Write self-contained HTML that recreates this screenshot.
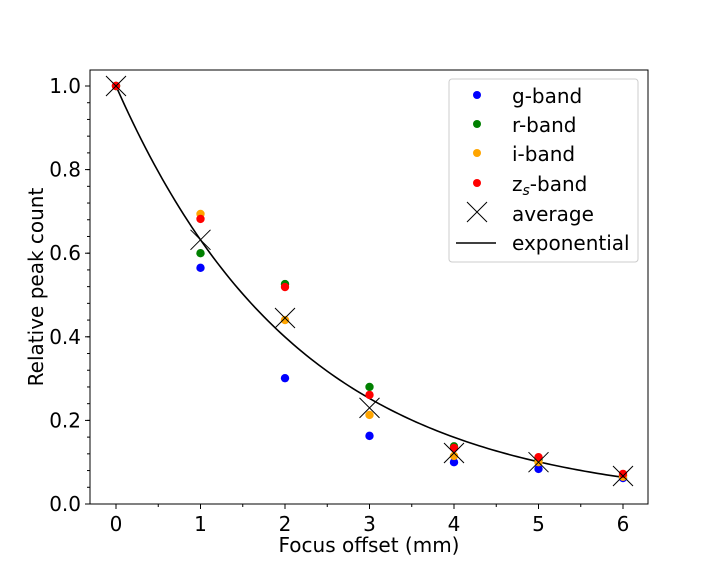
<!DOCTYPE html>
<html><head><meta charset="utf-8"><style>
body{margin:0;background:#fff;position:relative}
svg text{font-family:"DejaVu Sans","Liberation Sans",sans-serif;fill:#000}
</style></head><body>
<svg id="chart" width="720" height="576" xmlns="http://www.w3.org/2000/svg">
<rect width="720" height="576" fill="#fff"/>
<g id="plot"></g>
</svg>
<script>
const xs=[0,1,2,3,4,5,6];
const gBand=[1.0,0.565,0.301,0.163,0.100,0.084,0.062];
const rBand=[1.0,0.600,0.526,0.280,0.138,0.105,0.068];
const iBand=[1.0,0.694,0.440,0.213,0.115,0.100,0.065];
const zBand=[1.0,0.682,0.519,0.261,0.134,0.112,0.072];
const avgVals=[1.0,0.632,0.445,0.230,0.122,0.100,0.067];
const tau=2.18;
const xTicks=[0,1,2,3,4,5,6];
const yTicks=[0.0,0.2,0.4,0.6,0.8,1.0];
const L=90,R=648,T=70,B=504;
const sx=v=>116+v*84.5, sy=v=>504-v*418;
const ns="http://www.w3.org/2000/svg",g=document.getElementById('plot');
function mk(t,a,p){const e=document.createElementNS(ns,t);for(const k in a)e.setAttribute(k,a[k]);(p||g).appendChild(e);return e;}
let d="";for(let i=0;i<=120;i++){const x=i*6/120;d+=(i?"L":"M")+sx(x).toFixed(2)+","+sy(Math.exp(-x/tau)).toFixed(2);}
let c=mk('path',{d:d,fill:'none',stroke:'#000','stroke-width':1.6});


const series=[[gBand,'#0000ff','g-band'],[rBand,'#008000','r-band'],[iBand,'#ffa500','i-band'],[zBand,'#ff0000','zs-band']];
series.forEach(([vals,col,nm])=>{vals.forEach((v,i)=>{const e=mk('circle',{cx:sx(xs[i]),cy:sy(v),r:4.2,fill:col});

});});
avgVals.forEach((v,i)=>{const x=sx(xs[i]),y=sy(v),s=10;
const e=mk('path',{d:`M${x-s},${y-s}L${x+s},${y+s}M${x-s},${y+s}L${x+s},${y-s}`,stroke:'#000','stroke-width':1,fill:'none'});

});
let f=mk('rect',{x:L,y:T,width:R-L,height:B-T,fill:'none',stroke:'#000','stroke-width':1});


xTicks.forEach(t=>{mk('line',{x1:sx(t),x2:sx(t),y1:B,y2:B+5,stroke:'#000'});
const e=mk('text',{x:sx(t),y:B+27,'text-anchor':'middle','font-size':20});e.textContent=t;

});
for(let t=-0.5;t<=6.5;t+=0.5){if(sx(t)>L&&sx(t)<R)mk('line',{x1:sx(t),x2:sx(t),y1:B,y2:B+3,stroke:'#000'});}
for(let t=0;t<=1.04;t+=0.04){mk('line',{x1:L-3,x2:L,y1:sy(t),y2:sy(t),stroke:'#000'});}
yTicks.forEach(t=>{mk('line',{x1:L-5,x2:L,y1:sy(t),y2:sy(t),stroke:'#000'});
const e=mk('text',{x:L-9,y:sy(t)+7,'text-anchor':'end','font-size':20});e.textContent=t.toFixed(1);

});
</script>
<svg width="720" height="576" style="position:absolute;left:0;top:0" xmlns="http://www.w3.org/2000/svg">
<text x="369" y="552" text-anchor="middle" font-size="20">Focus offset (mm)</text>
<text transform="translate(43,287) rotate(-90)" text-anchor="middle" font-size="20">Relative peak count</text>
<g>
<rect x="449" y="79" width="189" height="183" rx="3" fill="#fff" stroke="#ccc"/>
<circle cx="477" cy="95" r="4" fill="#0000ff"/><text x="512" y="103" font-size="20">g-band</text>
<circle cx="477" cy="124" r="4" fill="#008000"/><text x="512" y="132" font-size="20">r-band</text>
<circle cx="477" cy="153" r="4" fill="#ffa500"/><text x="512" y="161" font-size="20">i-band</text>
<circle cx="477" cy="183" r="4" fill="#ff0000"/><text x="512" y="191" font-size="20">z<tspan font-size="14" dy="4" font-style="italic">s</tspan><tspan dy="-4">-band</tspan></text>
<path d="M467,202L487,222M467,222L487,202" stroke="#000" fill="none"/><text x="512" y="221" font-size="20">average</text>
<line x1="456" x2="496" y1="243" y2="243" stroke="#000" stroke-width="1.6"/><text x="512" y="250" font-size="20">exponential</text>
</g>
</svg>
</body></html>
